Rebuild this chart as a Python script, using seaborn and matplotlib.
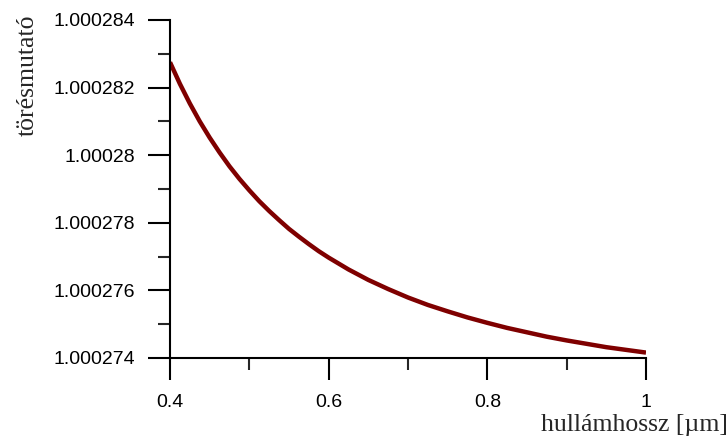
import matplotlib
matplotlib.use("Agg")
import matplotlib.pyplot as plt
import seaborn as sns
import pandas as pd
from matplotlib.ticker import FixedLocator, FixedFormatter

# Wavelength in micrometres and refractive index of air
wavelength = [0.4000, 0.4125, 0.4250, 0.4375, 0.4500, 0.4625, 0.4750, 0.4875,
              0.5000, 0.5125, 0.5250, 0.5375, 0.5500, 0.5625, 0.5750, 0.5875,
              0.600, 0.625, 0.650, 0.675, 0.700, 0.725, 0.750, 0.775, 0.800,
              0.825, 0.850, 0.875, 0.900, 0.925, 0.950, 0.975, 1.000]
refractive_index = [1.00028275, 1.00028211, 1.00028153, 1.00028100, 1.00028052,
                    1.00028008, 1.00027967, 1.00027930, 1.00027896, 1.00027864,
                    1.00027835, 1.00027808, 1.00027782, 1.00027759, 1.00027737,
                    1.00027716, 1.00027697, 1.00027662, 1.00027631, 1.00027604,
                    1.00027579, 1.00027557, 1.00027538, 1.00027520, 1.00027504,
                    1.00027489, 1.00027476, 1.00027463, 1.00027452, 1.00027442,
                    1.00027432, 1.00027424, 1.00027416]

x_major = [0.4, 0.6, 0.8, 1.0]
x_major_labels = ["0.4", "0.6", "0.8", "1"]
x_minor = [0.5, 0.7, 0.9]
y_major = [1.000274, 1.000276, 1.000278, 1.000280, 1.000282, 1.000284]
y_major_labels = ["1.000274", "1.000276", "1.000278", "1.00028", "1.000282", "1.000284"]
y_minor = [1.000275, 1.000277, 1.000279, 1.000281, 1.000283]

df = pd.DataFrame({"hullamhossz": wavelength, "toresmutato": refractive_index})

sns.set_style("ticks")
plt.rcParams["font.family"] = ["Liberation Sans", "DejaVu Sans"]

fig = plt.figure(figsize=(7.28, 4.43), dpi=100)
ax = fig.add_axes([170 / 728, 1 - 358 / 443, 476 / 728, 338 / 443])

sns.lineplot(data=df, x="hullamhossz", y="toresmutato", ax=ax,
             color="#7f0000", linewidth=3.2, solid_capstyle="butt",
             solid_joinstyle="round")

ax.set_xlim(0.4, 1.0)
ax.set_ylim(1.000274, 1.000284)

ax.xaxis.set_major_locator(FixedLocator(x_major))
ax.xaxis.set_major_formatter(FixedFormatter(x_major_labels))
ax.xaxis.set_minor_locator(FixedLocator(x_minor))
ax.yaxis.set_major_locator(FixedLocator(y_major))
ax.yaxis.set_major_formatter(FixedFormatter(y_major_labels))
ax.yaxis.set_minor_locator(FixedLocator(y_minor))

ax.tick_params(which="major", length=16, width=1.5, labelsize=14, colors="black")
ax.tick_params(which="minor", length=8.5, width=1.5)
ax.tick_params(axis="x", which="major", pad=10)
ax.tick_params(axis="y", which="major", pad=9)

for side in ("top", "right"):
    ax.spines[side].set_visible(False)
for side in ("left", "bottom"):
    ax.spines[side].set_linewidth(1.5)
    ax.spines[side].set_color("black")

label_font = {"family": ["Liberation Serif", "DejaVu Serif"], "size": 18.5}
ax.set_xlabel("hullámhossz [µm]", fontdict=label_font, loc="right")
ax.xaxis.set_label_coords(1.172, -0.165)
ax.set_ylabel("törésmutató", fontdict=label_font, loc="top")
ax.yaxis.set_label_coords(-0.275, 1.015)

fig.savefig("out.png", dpi=100)
